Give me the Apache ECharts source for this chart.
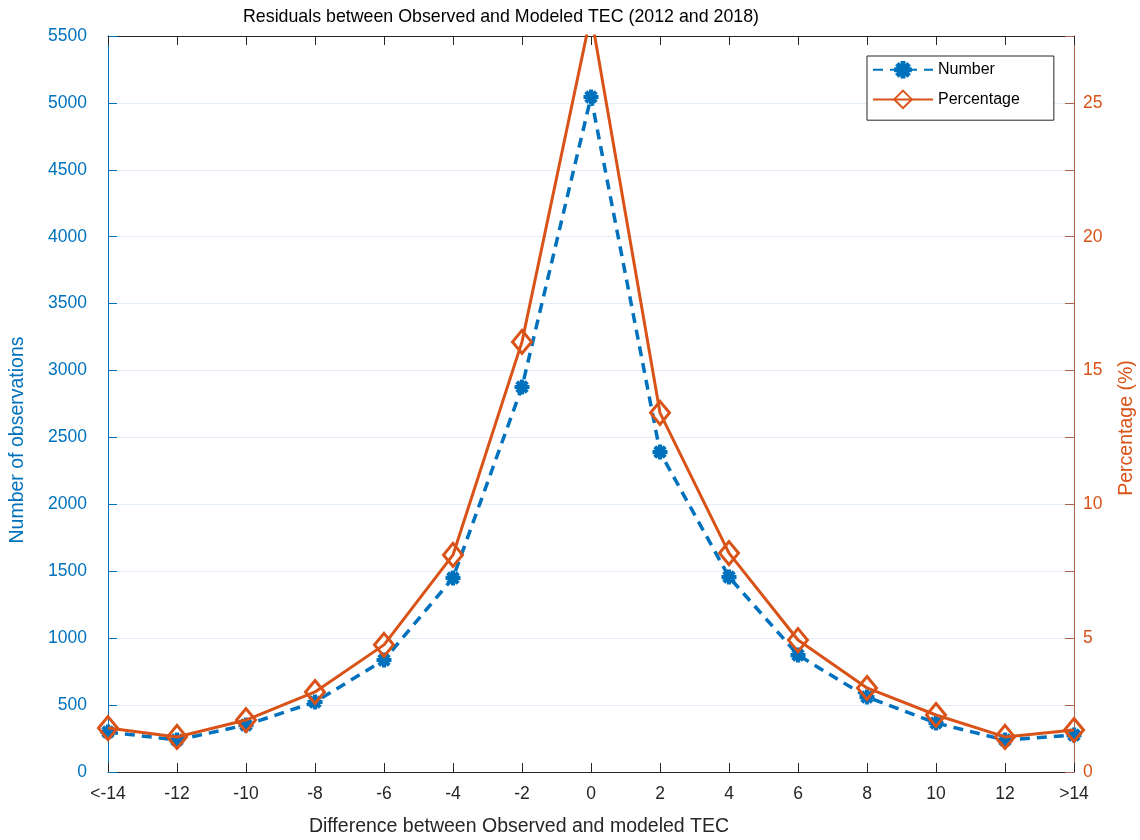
<!DOCTYPE html>
<html>
<head>
<meta charset="utf-8">
<script src="https://cdn.jsdelivr.net/npm/echarts@6/dist/echarts.min.js"></script>
<style>
html,body{margin:0;padding:0;background:#fff;}
#chart{width:1140px;height:840px;}
</style>
</head>
<body>
<div id="chart"></div>
<script>
const categories = ['<-14','-12','-10','-8','-6','-4','-2','0','2','4','6','8','10','12','>14'];
const numberValues = [299, 239, 351, 523, 837, 1450, 2877, 5044, 2391, 1457, 874, 560, 366, 239, 276];
const percentValues = [1.64, 1.31, 1.94, 2.99, 4.75, 8.11, 16.07, 28.3, 13.42, 8.18, 4.93, 3.14, 2.13, 1.31, 1.57];
const leftTicks = [0, 5500, 500];
const rightTicks = [0, 27.5, 2.5];

const BLUE = '#0072BD';
const ORANGE = '#D95319';
const FONT = 'Liberation Sans, Arial, Helvetica, sans-serif';

const asterisk = 'path://M0,3.6L10,3.6L10,6.4L0,6.4Z M3.6,0L6.4,0L6.4,10L3.6,10Z M0.5,2.5L2.5,0.5L9.5,7.5L7.5,9.5Z M7.5,0.5L9.5,2.5L2.5,9.5L0.5,7.5Z M5,2.2A2.8,2.8,0,1,1,4.99,2.2Z';

const chart = echarts.init(document.getElementById('chart'), null, {renderer: 'canvas'});
chart.setOption({
  backgroundColor: '#fff',
  animation: false,
  textStyle: {fontFamily: FONT},
  grid: {left: 108, right: 66, top: 36, bottom: 68, containLabel: false},
  legend: {
    left: 867, top: 56, orient: 'vertical',
    itemWidth: 60, itemHeight: 22, itemGap: 11,
    padding: [5, 34, 11, 5],
    backgroundColor: '#fff',
    borderColor: '#262626', borderWidth: 1, borderRadius: 0,
    textStyle: {fontSize: 16, color: '#000', fontFamily: FONT, padding: [-6, 0, 0, 0]},
    data: ['Number', 'Percentage']
  },
  xAxis: [{
    type: 'category', data: categories, boundaryGap: false, position: 'bottom',
    axisLine: {onZero: false, lineStyle: {color: '#262626', width: 1}},
    axisTick: {inside: true, length: 9, alignWithLabel: true, lineStyle: {color: '#262626'}},
    axisLabel: {fontSize: 17.5, color: '#262626', margin: 13, fontFamily: FONT, interval: 0},
    splitLine: {show: false}
  }, {
    type: 'category', data: categories, boundaryGap: false, position: 'top',
    axisLine: {onZero: false, lineStyle: {color: '#262626', width: 1}},
    axisTick: {inside: true, length: 9, alignWithLabel: true, lineStyle: {color: '#262626'}},
    axisLabel: {show: false},
    splitLine: {show: false}
  }],
  yAxis: [{
    type: 'value', position: 'left', min: leftTicks[0], max: leftTicks[1], interval: leftTicks[2],
    axisLine: {show: true, lineStyle: {color: BLUE, width: 1}},
    axisTick: {show: true, inside: true, length: 9, lineStyle: {color: BLUE}},
    axisLabel: {fontSize: 17.5, color: BLUE, margin: 21, fontFamily: FONT, formatter: v => String(v)},
    splitLine: {show: true, lineStyle: {color: '#E3EDF7', width: 1}}
  }, {
    type: 'value', position: 'right', min: rightTicks[0], max: rightTicks[1], interval: rightTicks[2],
    axisLine: {show: true, lineStyle: {color: '#A8614A', width: 1}},
    axisTick: {show: true, inside: true, length: 9, lineStyle: {color: '#A8614A'}},
    axisLabel: {fontSize: 17.5, color: ORANGE, margin: 9, fontFamily: FONT,
      formatter: v => (Math.abs(v % 5) < 1e-9 ? String(v) : '')},
    splitLine: {show: false}
  }],
  series: [{
    name: 'Number', type: 'line', xAxisIndex: 0, yAxisIndex: 0,
    data: numberValues,
    symbol: asterisk, symbolSize: 15,
    itemStyle: {color: BLUE},
    lineStyle: {color: BLUE, width: 3.5, type: [10, 7]},
    z: 2
  }, {
    name: 'Percentage', type: 'line', xAxisIndex: 0, yAxisIndex: 1,
    data: percentValues,
    symbol: 'diamond', symbolSize: [19, 23],
    itemStyle: {color: 'rgba(255,255,255,0)', borderColor: ORANGE, borderWidth: 3},
    lineStyle: {color: ORANGE, width: 3},
    z: 3
  }],
  graphic: [{
    type: 'text',
    style: {text: 'Residuals between Observed and Modeled TEC (2012 and 2018)', font: '17.8px ' + FONT, fill: '#000', textAlign: 'center', textVerticalAlign: 'middle', x: 501, y: 17}
  }, {
    type: 'text',
    style: {text: 'Difference between Observed and modeled TEC', font: '19.5px ' + FONT, fill: '#262626', textAlign: 'center', textVerticalAlign: 'middle', x: 519, y: 827}
  }, {
    type: 'text', x: 18, y: 440, rotation: Math.PI / 2,
    style: {text: 'Number of observations', font: '19.5px ' + FONT, fill: BLUE, textAlign: 'center', textVerticalAlign: 'middle'}
  }, {
    type: 'text', x: 1127, y: 428, rotation: Math.PI / 2,
    style: {text: 'Percentage (%)', font: '19.5px ' + FONT, fill: ORANGE, textAlign: 'center', textVerticalAlign: 'middle'}
  }]
});
</script>
</body>
</html>
